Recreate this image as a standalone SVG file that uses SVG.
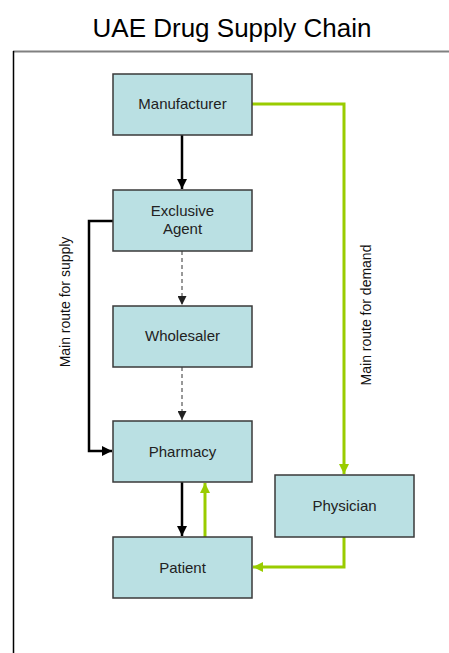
<svg xmlns="http://www.w3.org/2000/svg" width="449" height="653" viewBox="0 0 449 653">
<style>
.box{fill:#BAE0E3;stroke:#3a3a3a;stroke-width:1.5}
.lbl{font-family:"Liberation Sans",Arial,sans-serif;font-size:15px;fill:#222;text-anchor:middle}
.side{font-family:"Liberation Sans",Arial,sans-serif;font-size:14px;fill:#111;text-anchor:middle}
.blk{fill:none;stroke:#000;stroke-width:2.5}
.dash{fill:none;stroke:#333;stroke-width:1;stroke-dasharray:4,3}
.grn{fill:none;stroke:#99CC00;stroke-width:3}
</style>
<defs>
<marker id="ab" markerUnits="userSpaceOnUse" markerWidth="12" markerHeight="12" refX="10" refY="5" orient="auto" viewBox="0 0 12 10"><path d="M0,0 L10,5 L0,10 Z" fill="#000"/></marker>
<marker id="ad" markerUnits="userSpaceOnUse" markerWidth="9" markerHeight="9" refX="9" refY="4.5" orient="auto" viewBox="0 0 9 9"><path d="M0,0 L9,4.5 L0,9 Z" fill="#222"/></marker>
<marker id="ag" markerUnits="userSpaceOnUse" markerWidth="12" markerHeight="12" refX="10" refY="5" orient="auto" viewBox="0 0 12 10"><path d="M0,0 L10,5 L0,10 Z" fill="#99CC00"/></marker>
</defs>
<rect x="0" y="0" width="449" height="653" fill="#fff"/>
<text x="232" y="37" font-family="'Liberation Sans',Arial,sans-serif" font-size="26" fill="#000" text-anchor="middle">UAE Drug Supply Chain</text>
<line x1="13" y1="51.5" x2="449" y2="51.5" stroke="#808080" stroke-width="2"/>
<line x1="13.5" y1="51" x2="13.5" y2="653" stroke="#000" stroke-width="1.5"/>
<g id="connectors">
<path class="blk" d="M182,135 L182,189" marker-end="url(#ab)"/>
<path class="dash" d="M182,251 L182,305" marker-end="url(#ad)"/>
<path class="dash" d="M182,367 L182,420" marker-end="url(#ad)"/>
<path class="blk" d="M113,221 L89,221 L89,451 L112,451" marker-end="url(#ab)"/>
<path class="blk" d="M182,482 L182,536" marker-end="url(#ab)"/>
<path class="grn" d="M205,537 L205,483" marker-end="url(#ag)"/>
<path class="grn" d="M252,104 L344,104 L344,474" marker-end="url(#ag)"/>
<path class="grn" d="M344,537 L344,567 L253,567" marker-end="url(#ag)"/>
</g>
<g id="manufacturer"><rect class="box" x="113" y="74" width="139" height="61"/><text class="lbl" x="182.5" y="109">Manufacturer</text></g>
<g id="agent"><rect class="box" x="113" y="190" width="139" height="61"/><text class="lbl" x="182.5" y="216">Exclusive</text><text class="lbl" x="182.5" y="234">Agent</text></g>
<g id="wholesaler"><rect class="box" x="113" y="306" width="139" height="61"/><text class="lbl" x="182.5" y="341">Wholesaler</text></g>
<g id="pharmacy"><rect class="box" x="113" y="421" width="139" height="61"/><text class="lbl" x="182.5" y="457">Pharmacy</text></g>
<g id="physician"><rect class="box" x="275" y="475" width="139" height="62"/><text class="lbl" x="344.5" y="511">Physician</text></g>
<g id="patient"><rect class="box" x="113" y="537" width="139" height="61"/><text class="lbl" x="182.5" y="573">Patient</text></g>
<g id="labels">
<text class="side" transform="translate(70,302) rotate(-90)">Main route for supply</text>
<text class="side" transform="translate(371,315) rotate(-90)">Main route for demand</text>
</g>
</svg>
